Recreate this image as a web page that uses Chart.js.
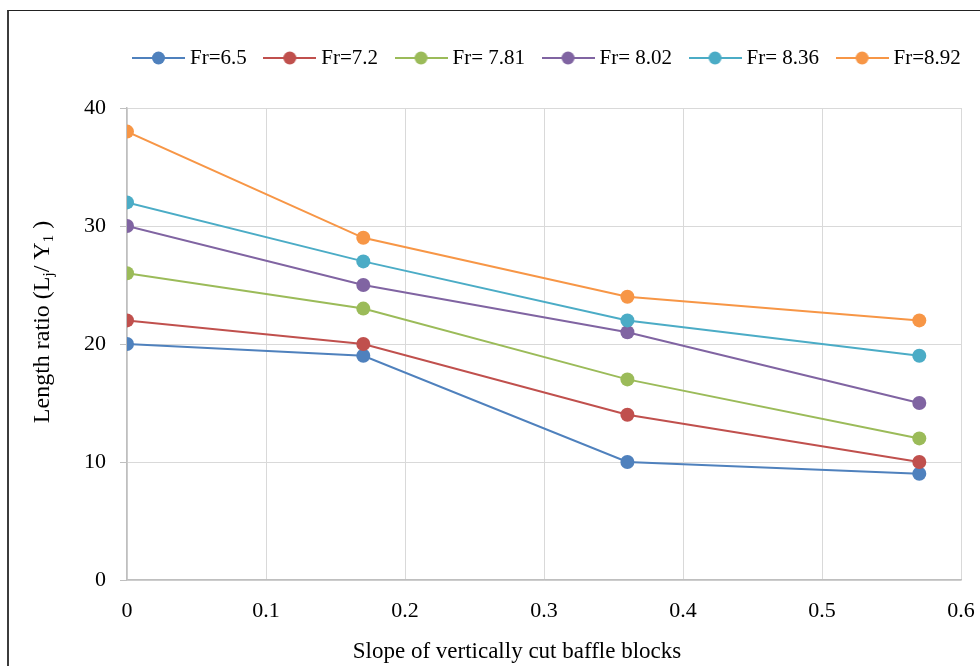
<!DOCTYPE html>
<html>
<head>
<meta charset="utf-8">
<script src="https://cdn.jsdelivr.net/npm/chart.js@4.4.1/dist/chart.umd.min.js"></script>
<style>
    html, body { margin: 0; padding: 0; background: #fff; }
    #wrap { position: relative; width: 980px; height: 666px; overflow: hidden; }
    #frame {
        position: absolute; left: 7px; top: 10px; width: 1200px; height: 900px;
        border-left: 2px solid #3c3c3c; border-top: 1px solid #222;
    }
    canvas { position: absolute; left: 0; top: 0; }
</style>
</head>
<body>
<div id="wrap">
    <div id="frame"></div>
    <canvas id="chart" width="980" height="666"></canvas>
</div>
<script>
/* data */
const slopes = [0, 0.17, 0.36, 0.57];
const seriesNames = ['Fr=6.5', 'Fr=7.2', 'Fr= 7.81', 'Fr= 8.02', 'Fr= 8.36', 'Fr=8.92'];
const fr65 = [20, 19, 10, 9];
const fr72 = [22, 20, 14, 10];
const fr781 = [26, 23, 17, 12];
const fr802 = [30, 25, 21, 15];
const fr836 = [32, 27, 22, 19];
const fr892 = [38, 29, 24, 22];
const xTicks = [0, 0.1, 0.2, 0.3, 0.4, 0.5, 0.6];
const yTicks = [0, 10, 20, 30, 40];

const X_TITLE = 'Slope of vertically cut baffle blocks';
const FONT = "'Liberation Serif', 'Times New Roman', serif";

const COLORS = ['#4F81BD', '#C0504D', '#9BBB59', '#8064A2', '#4BACC6', '#F79646'];
const allSeries = [fr65, fr72, fr781, fr802, fr836, fr892];

// legend marker: short line with a dot in the middle
function makeMark(color) {
    const c = document.createElement('canvas');
    c.width = 53; c.height = 14;
    const g = c.getContext('2d');
    g.strokeStyle = color;
    g.lineWidth = 2;
    g.beginPath(); g.moveTo(0, 7); g.lineTo(53, 7); g.stroke();
    g.fillStyle = color;
    g.beginPath(); g.arc(26.5, 7, 6.5, 0, Math.PI * 2); g.fill();
    return c;
}
const legendMarks = COLORS.map(makeMark);

const datasets = allSeries.map((vals, i) => ({
    label: seriesNames[i],
    data: slopes.map((x, j) => ({ x, y: vals[j] })),
    borderColor: COLORS[i],
    backgroundColor: COLORS[i],
    borderWidth: 2,
    pointRadius: 7,
    pointBorderWidth: 0,
    pointHoverRadius: 7,
    tension: 0,
    order: allSeries.length - i,
}));

// axis titles (y one needs subscripts) + legend nudged to sit over the plot
const extras = {
    id: 'extras',
    afterLayout(chart) {
        const lg = chart.legend;
        const w = lg.right - lg.left, h = lg.bottom - lg.top;
        lg.left = 115.5;
        lg.right = lg.left + w;
        lg.top = 25.5;
        lg.bottom = lg.top + h;
    },
    afterDraw(chart) {
        const { ctx, chartArea } = chart;
        ctx.save();
        ctx.fillStyle = '#000';
        ctx.textBaseline = 'middle';
        ctx.textAlign = 'center';
        ctx.font = `23px ${FONT}`;
        ctx.fillText(X_TITLE, (chartArea.left + chartArea.right) / 2 - 27, 652);

        const parts = [
            ['Length ratio (L', false], ['j', true], ['/ Y', false], ['1', true], [' )', false],
        ];
        const big = `24px ${FONT}`, small = `15px ${FONT}`;
        let total = 0;
        parts.forEach(([t, sub]) => { ctx.font = sub ? small : big; total += ctx.measureText(t).width; });
        ctx.translate(43, 322);
        ctx.rotate(-Math.PI / 2);
        ctx.textAlign = 'left';
        let x = -total / 2;
        parts.forEach(([t, sub]) => {
            ctx.font = sub ? small : big;
            ctx.fillText(t, x, sub ? 6 : 0);
            x += ctx.measureText(t).width;
        });
        ctx.restore();
    },
};

new Chart(document.getElementById('chart'), {
    type: 'line',
    data: { datasets },
    plugins: [extras],
    options: {
        responsive: false,
        animation: false,
        layout: { padding: { top: 55, right: 19, bottom: 0, left: 0 } },
        plugins: {
            legend: {
                position: 'top',
                align: 'start',
                labels: {
                    font: { family: FONT, size: 21 },
                    color: '#000',
                    usePointStyle: true,
                    pointStyleWidth: 42,
                    padding: 22,
                    sort: (a, b) => a.datasetIndex - b.datasetIndex,
                    generateLabels: (chart) =>
                        Chart.defaults.plugins.legend.labels.generateLabels(chart)
                            .map((it) => ({ ...it, pointStyle: legendMarks[it.datasetIndex] })),
                },
            },
            tooltip: { enabled: false },
        },
        scales: {
            x: {
                type: 'linear',
                min: xTicks[0],
                max: xTicks[xTicks.length - 1],
                afterBuildTicks: (s) => { s.ticks = xTicks.map((v) => ({ value: v })); },
                afterFit: (s) => { s.height = 86; s.paddingLeft = 0; s.paddingRight = 0; },
                grid: { color: '#D9D9D9', drawTicks: false },
                border: { color: '#BFBFBF', width: 1.5 },
                ticks: {
                    font: { family: FONT, size: 22 },
                    color: '#000',
                    padding: 18,
                    maxRotation: 0,
                    callback: (v) => String(v),
                },
            },
            y: {
                min: yTicks[0],
                max: yTicks[yTicks.length - 1],
                afterBuildTicks: (s) => { s.ticks = yTicks.map((v) => ({ value: v })); },
                afterFit: (s) => { s.width = 127; s.paddingTop = 0; s.paddingBottom = 0; },
                grid: { color: '#D9D9D9', tickLength: 7, tickColor: '#BFBFBF' },
                border: { color: '#BFBFBF', width: 1.5 },
                ticks: {
                    font: { family: FONT, size: 22 },
                    color: '#000',
                    padding: 14,
                },
            },
        },
    },
});
</script>
</body>
</html>
